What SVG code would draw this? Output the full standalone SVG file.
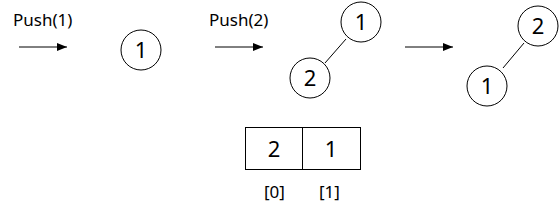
<svg xmlns="http://www.w3.org/2000/svg" width="560" height="215" viewBox="0 0 560 215">
<defs>
<marker id="ah" viewBox="0 0 10 10" refX="10" refY="5" markerWidth="10" markerHeight="10" markerUnits="userSpaceOnUse" orient="auto">
<path d="M0,1 L10,5 L0,9 Z" fill="#000"/>
</marker>
<style>
.c{fill:#fff;stroke:#000;stroke-width:1}
.t{font-family:"Noto Sans","Liberation Sans",Arial,sans-serif;fill:#000}
.lbl{font-size:17px}
.n{font-size:22px;text-anchor:middle}
.idx{font-size:17px;text-anchor:middle}
.e{stroke:#000;stroke-width:1;fill:none}
.a{stroke:#000;stroke-width:1;fill:none;marker-end:url(#ah)}
</style>
</defs>
<rect width="560" height="215" fill="#fff"/>
<g id="labels">
<text class="t lbl" x="13" y="26">Push(1)</text>
<text class="t lbl" x="209" y="26">Push(2)</text>
</g>
<g id="connectors">
<line class="a" x1="19" y1="47" x2="67" y2="47"/>
<line class="a" x1="215" y1="47" x2="263" y2="47"/>
<line class="a" x1="405" y1="47" x2="453" y2="47"/>
<line class="e" x1="346" y1="39" x2="325" y2="63"/>
<line class="e" x1="524" y1="43" x2="503" y2="68"/>
</g>
<g id="node-s1-1">
<circle class="c" cx="141" cy="50" r="20"/>
<text class="t n" x="141" y="58">1</text>
</g>
<g id="node-s2-1">
<circle class="c" cx="361" cy="22" r="20"/>
<text class="t n" x="361" y="30">1</text>
</g>
<g id="node-s2-2">
<circle class="c" cx="310" cy="78" r="20"/>
<text class="t n" x="310" y="86">2</text>
</g>
<g id="node-s3-2">
<circle class="c" cx="538" cy="26" r="20"/>
<text class="t n" x="538" y="34">2</text>
</g>
<g id="node-s3-1">
<circle class="c" cx="487" cy="86" r="20"/>
<text class="t n" x="487" y="94">1</text>
</g>
<g id="array">
<rect class="c" x="245.5" y="127.5" width="115" height="42"/>
<line class="e" x1="302.5" y1="127.5" x2="302.5" y2="169.5"/>
<text class="t n" x="274" y="157">2</text>
<text class="t n" x="331" y="157">1</text>
<text class="t idx" x="274.5" y="198">[0]</text>
<text class="t idx" x="329.5" y="198">[1]</text>
</g>
</svg>
